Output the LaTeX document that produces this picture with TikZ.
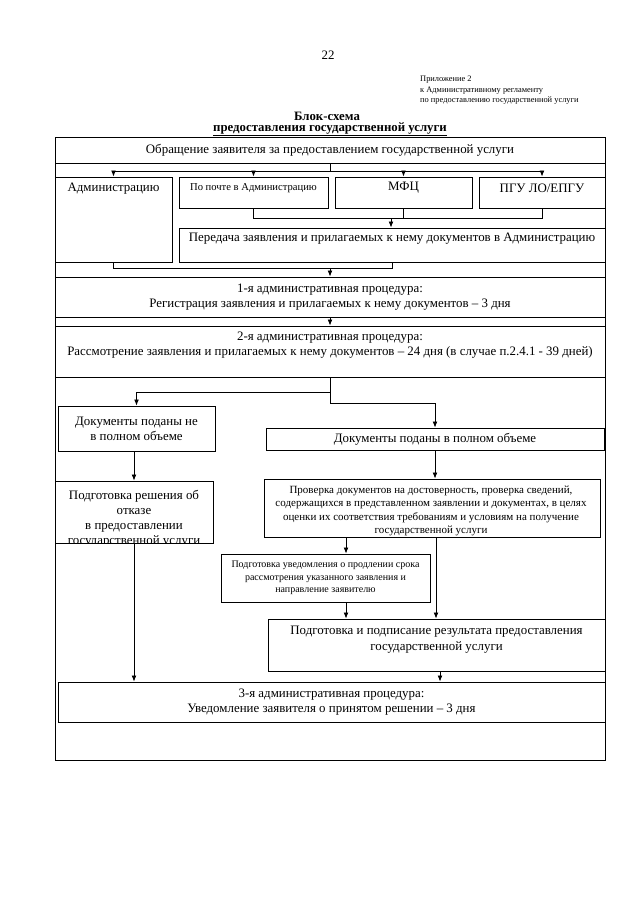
\documentclass[tikz,border=0pt]{standalone}
\usepackage{fontspec}
\setmainfont{Liberation Serif}
\usetikzlibrary{arrows.meta}
\begin{document}
\begin{tikzpicture}[x=1pt,y=-1pt,
  box/.style={draw, line width=0.9pt, inner sep=0pt, align=center, font=\fontsize{12.9}{15}\selectfont},
  txt/.style={inner sep=0pt, align=center, font=\fontsize{12.9}{15}\selectfont},
  arr/.style={line width=0.8pt, -{Latex[length=6pt,width=4.8pt]}},
  ln/.style={line width=0.8pt}]
\useasboundingbox[fill=white] (0,0) rectangle (640,905);

% header
\node[txt] (pnum) at (328,55) {22};
\node[inner sep=0pt, anchor=north west, align=left, font=\fontsize{8.4}{10.3}\selectfont] (appx) at (420,76)
  {Приложение 2\\к Административному регламенту\\по предоставлению государственной услуги};
\node[txt, anchor=base, font=\bfseries\fontsize{12.8}{14}\selectfont] (ttl1) at (327,120) {Блок-схема};
\node[txt, anchor=base, font=\bfseries\fontsize{12.8}{14}\selectfont] (ttl2) at (330,131.5) {\underline{предоставления государственной услуги}};

% outer frame
\node[draw, line width=0.9pt, minimum width=550pt, minimum height=623pt, inner sep=0pt] (frame) at (330,448.5) {};

% boxes
\node[box, minimum width=550pt, minimum height=26pt] (obr) at (330,150) {Обращение заявителя за предоставлением государственной услуги};
\node[box, minimum width=117pt, minimum height=85pt] (adm) at (113.5,219.5) {};
\node[txt] (admt) at (113.5,189) {Администрацию};
\node[box, minimum width=149pt, minimum height=31pt] (pochta) at (253.5,192.5) {};
\node[txt, font=\fontsize{10.6}{12}\selectfont] (pochtat) at (253.5,188) {По почте в Администрацию};
\node[box, minimum width=137pt, minimum height=31pt] (mfc) at (403.5,192.5) {};
\node[txt] (mfct) at (403.5,188) {МФЦ};
\node[box, minimum width=126pt, minimum height=31pt] (pgu) at (542,192.5) {};
\node[txt] (pgut) at (542,188) {ПГУ ЛО/ЕПГУ};
\node[box, minimum width=426pt, minimum height=34pt] (pered) at (392,245) {};
\node[txt] (peredt) at (392,239) {Передача заявления и прилагаемых к нему документов в Администрацию};

\node[box, minimum width=550pt, minimum height=40pt] (p1) at (330,297)
  {1-я административная процедура:\\Регистрация заявления и прилагаемых к нему документов – 3 дня};
\node[box, minimum width=550pt, minimum height=51pt] (p2) at (330,351.5) {};
\node[txt] (p2t) at (330,345)
  {2-я административная процедура:\\Рассмотрение заявления и прилагаемых к нему документов – 24 дня (в случае п.2.4.1 - 39 дней)};

\node[box, minimum width=157pt, minimum height=45pt] (nf) at (136.5,428.5) {Документы поданы не\\в полном объеме};
\node[box, minimum width=338pt, minimum height=22pt] (full) at (435,439) {Документы поданы в полном объеме};

\node[box, minimum width=158pt, minimum height=62pt] (refuse) at (134,512) {};
\begin{scope}
\clip (55,481) rectangle (213,542.5);
\node[txt] (refuset) at (134,518.5) {Подготовка решения об\\отказе\\в предоставлении\\государственной услуги};
\end{scope}

\node[box, minimum width=336pt, minimum height=58pt, font=\fontsize{11}{13.3}\selectfont] (check) at (432,508) {};
\node[txt, font=\fontsize{11}{13.3}\selectfont] (checkt) at (431,511)
  {Проверка документов на достоверность, проверка сведений,\\содержащихся в представленном заявлении и документах, в целях\\оценки их соответствия требованиям и условиям на получение\\государственной услуги};
\node[box, minimum width=209pt, minimum height=48pt, font=\fontsize{10}{12.4}\selectfont] (notify) at (325.5,578)
  {Подготовка уведомления о продлении срока\\рассмотрения указанного заявления и\\направление заявителю};
\node[box, minimum width=337pt, minimum height=52pt] (sign) at (436.5,645) {};
\node[txt, font=\fontsize{12.9}{16}\selectfont] (signt) at (436.5,639.5) {Подготовка и подписание результата предоставления\\государственной услуги};

\node[box, minimum width=547pt, minimum height=40pt] (p3) at (331.5,702)
  {3-я административная процедура:\\Уведомление заявителя о принятом решении – 3 дня};

% connectors
\coordinate (t1) at (330,171);
\draw[ln] (obr.south) -- (t1);
\draw[ln] (adm.north |- t1) -- (pgu.north |- t1);
\draw[arr] (adm.north |- t1) -- (adm.north);
\draw[arr] (pochta.north |- t1) -- (pochta.north);
\draw[arr] (mfc.north |- t1) -- (mfc.north);
\draw[arr] (pgu.north |- t1) -- (pgu.north);

\coordinate (t2) at (391,218);
\draw[ln] (pochta.south) -- (pochta.south |- t2) -- (pgu.south |- t2) -- (pgu.south);
\draw[ln] (mfc.south) -- (mfc.south |- t2);
\draw[arr] (t2) -- (t2 |- pered.north);

\coordinate (t3) at (330,268);
\draw[ln] (adm.south) |- (pered.south |- t3) -- (pered.south);
\draw[arr] (t3) -- (t3 |- p1.north);

\draw[arr] (p1.south) -- (p2.north);

\coordinate (t4) at (330,392);
\coordinate (t5) at (330,403);
\draw[ln] (p2.south) -- (t5);
\draw[arr] (t4) -| (nf.north);
\draw[arr] (t5) -| (full.north);

\draw[arr] (refuse.north |- nf.south) -- (refuse.north);
\draw[arr] (full.south) -- (full.south |- check.north);

\coordinate (xa) at (346,0);
\coordinate (xb) at (436,0);
\coordinate (xc) at (440,0);
\draw[arr] (check.south -| xa) -- (notify.north -| xa);
\draw[arr] (check.south -| xb) -- (sign.north -| xb);
\draw[arr] (notify.south -| xa) -- (sign.north -| xa);
\draw[arr] (refuse.south) -- (refuse.south |- p3.north);
\draw[arr] (sign.south -| xc) -- (p3.north -| xc);
\end{tikzpicture}
\end{document}
